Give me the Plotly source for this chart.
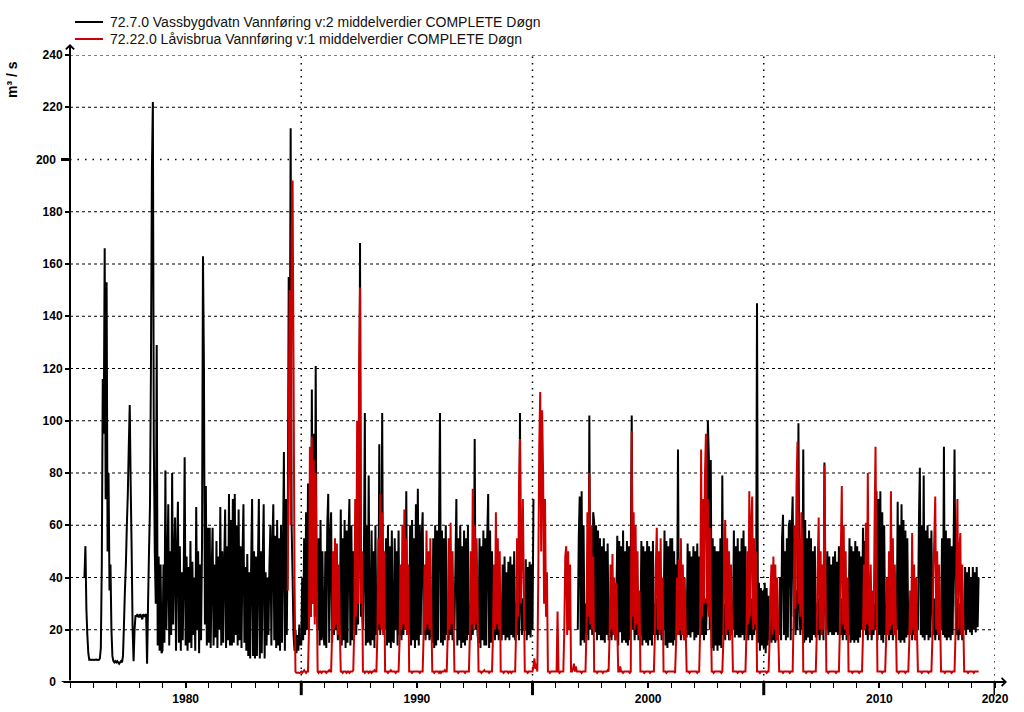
import plotly.graph_objects as go

# ---------------- data (daily mean discharge, m3/s), read at 1/24-year steps -------------
STEP = 1.0 / 24.0

# 72.7.0 Vassbygdvatn, first segment starts 1975 + 15/24
vass_start_1 = 1975 + 15 / 24
vass_1975_1984 = [
    40, 52, 28, 18, 11, 8.5, 8.6, 8.4, 8.5,
    8.5, 8.4, 8.5, 8.6, 8.5, 8.4, 8.5, 9, 13, 45, 116, 95, 166, 70, 153, 50, 80, 35, 45, 20, 10, 8, 7.5, 8,
    7.5, 8, 7.5, 7, 7.5, 8, 7.5, 10, 22, 35, 45, 60, 72, 90, 106, 75, 50, 20, 8, 20, 25.5, 25, 26, 25,
    25, 26, 25, 24, 26, 25, 25.5, 26, 7, 30, 50, 67, 120, 196, 222, 90, 50, 30, 129, 14, 48, 12, 45, 11,
    12, 45, 15, 81, 20, 40, 68, 14, 50, 18, 80, 22, 45, 63, 12, 48, 69, 15, 52, 12, 42, 16, 40, 86,
    14, 48, 12, 44, 15, 54, 13, 46, 18, 40, 12, 67, 20, 50, 11, 45, 16, 52, 163, 121, 22, 75, 14, 59,
    15, 59, 13, 42, 59, 14, 45, 17, 54, 13, 48, 20, 67, 14, 50, 15, 44, 66, 13, 52, 16, 72, 14, 62,
    14, 70, 15, 72, 18, 60, 14, 66, 16, 52, 13, 48, 68, 15, 44, 12, 49, 10, 42, 9, 45, 70, 10, 50,
    9, 48, 10, 44, 70, 9, 50, 11, 46, 68, 9, 42, 14, 40, 18, 45, 60, 14, 52, 68, 16, 56, 13, 62,
    14, 55, 12, 60, 15, 50, 88, 12, 70, 18, 60, 155, 100, 212, 60, 40, 18, 12, 20, 11, 18, 12, 22, 14,
]
vass_start_2 = 1985.0
vass_1985_1995 = [
    14, 40, 16, 55, 18, 65, 20, 76, 20, 60, 25, 112, 30, 95, 25, 121, 30, 20, 55, 14, 62, 16, 50, 18,
    14, 50, 13, 60, 72, 15, 55, 65, 15, 30, 18, 35, 20, 32, 16, 30, 18, 66, 14, 55, 16, 62, 13, 58,
    15, 55, 70, 14, 60, 16, 50, 20, 30, 18, 35, 22, 60, 168, 25, 30, 20, 45, 103, 14, 60, 15, 79, 16,
    14, 58, 16, 50, 13, 60, 18, 25, 20, 91, 18, 30, 103, 20, 30, 20, 55, 14, 60, 15, 52, 13, 58, 16,
    15, 55, 20, 50, 14, 58, 18, 30, 16, 35, 18, 32, 20, 73, 18, 30, 18, 60, 14, 62, 16, 55, 13, 68,
    16, 74, 14, 60, 18, 55, 65, 18, 30, 16, 35, 18, 32, 16, 30, 18, 15, 55, 13, 60, 14, 58, 16, 62,
    103, 15, 58, 14, 55, 16, 60, 18, 30, 16, 35, 18, 32, 16, 30, 20, 45, 70, 14, 55, 16, 60, 13, 52,
    15, 58, 14, 55, 16, 60, 18, 30, 16, 35, 18, 30, 93, 20, 32, 18, 15, 55, 13, 52, 16, 58, 14, 55,
    14, 55, 72, 13, 58, 15, 50, 18, 30, 16, 35, 18, 32, 16, 30, 18, 16, 45, 18, 48, 16, 42, 17, 46,
    16, 48, 18, 45, 17, 50, 16, 30, 18, 35, 16, 103, 30, 18, 32, 20, 20, 47, 16, 44, 18, 46, 17, 45,
    20, 70,
]
vass_start_3 = 1996 + 23 / 24
vass_1997_2014 = [
    20,
    55, 71, 14, 73, 16, 60, 15, 30, 18, 35, 16, 102, 20, 32, 18, 65, 61, 19, 60, 16, 58, 18, 55, 16,
    52, 16, 55, 15, 50, 18, 53, 16, 18, 32, 16, 30, 18, 32, 16, 30, 56, 14, 54, 19, 52, 15, 58, 16,
    50, 15, 54, 14, 52, 16, 48, 102, 20, 32, 16, 30, 18, 32, 16, 30, 18, 54, 14, 52, 16, 50, 15, 54,
    14, 52, 16, 50, 14, 54, 18, 30, 18, 32, 16, 30, 18, 32, 16, 30, 20, 58, 14, 54, 13, 52, 15, 55,
    15, 55, 14, 50, 16, 45, 20, 89, 18, 32, 16, 30, 18, 32, 16, 30, 17, 53, 18, 50, 17, 48, 19, 52,
    16, 50, 17, 53, 18, 48, 20, 30, 18, 35, 16, 32, 18, 30, 100, 86, 20, 85, 13, 55, 12, 52, 14, 50,
    12, 50, 14, 55, 13, 79, 18, 30, 16, 35, 18, 32, 16, 30, 18, 30, 20, 58, 17, 52, 18, 55, 17, 50,
    17, 55, 18, 58, 16, 52, 18, 30, 16, 35, 18, 32, 16, 30, 18, 32, 20, 145, 15, 38, 12, 36, 14, 35,
    13, 38, 11, 36, 14, 33, 16, 25, 15, 28, 16, 25, 15, 28, 16, 25, 18, 40, 16, 55, 64, 18, 50, 16,
    55, 17, 60, 62, 16, 58, 71, 25, 30, 18, 35, 20, 99, 30, 18, 32, 20, 89, 15, 62, 16, 55, 17, 58,
    15, 55, 16, 50, 18, 52, 17, 30, 18, 32, 16, 30, 18, 32, 16, 84, 30, 20, 50, 18, 48, 19, 45, 18,
    48, 18, 50, 19, 46, 18, 52, 30, 18, 32, 16, 30, 18, 32, 16, 30, 18, 55, 15, 52, 16, 50, 15, 54,
    16, 52, 15, 50, 17, 48, 20, 59, 20, 54, 18, 32, 16, 30, 18, 32, 16, 30, 18, 30, 20, 73, 16, 70,
    18, 73, 16, 65, 15, 60, 18, 30, 18, 32, 16, 30, 18, 32, 16, 30, 18, 32, 20, 69, 16, 60, 15, 68,
    16, 62, 15, 58, 17, 55, 18, 30, 18, 32, 16, 30, 18, 32, 16, 30, 20, 60, 82, 18, 60, 17, 79, 16,
    58, 18, 60, 16, 55, 17, 58, 30, 18, 32, 16, 30, 18, 32, 16, 30, 20, 55, 18, 90, 17, 58, 16, 55,
    17, 55, 16, 52, 18, 50, 89, 30, 18, 32, 16, 30, 18, 32, 16, 30, 20, 44, 18, 42, 20, 44, 19, 40,
    18, 44, 20, 42, 19, 44, 21, 40,
]

# 72.22.0 Låvisbrua, starts 1984 + 10/24
laav_start_1 = 1984 + 10 / 24
laav_1984_1994 = [
    35, 100, 150, 60, 170, 192, 120, 40, 4, 3.5, 3.5, 3.6, 3.5, 3.6,
    4, 3.5, 4, 4.5, 4, 3.5, 4, 4, 20, 90, 25, 94, 30, 85, 22, 80, 40, 4, 3.5, 4, 4, 3.5, 4, 4,
    4, 4, 3.5, 4, 4, 4.5, 4, 4, 18, 50, 20, 55, 22, 53, 18, 45, 20, 4, 4, 3.5, 4, 4, 4, 3.5,
    4, 4, 3.5, 4, 4, 4, 4.5, 20, 70, 25, 100, 30, 120, 151, 30, 50, 4, 4, 3.5, 4, 4, 4, 3.5, 4,
    4, 3.5, 4, 4, 4.5, 4, 4, 18, 55, 22, 72, 20, 65, 18, 50, 4, 4, 4, 3.5, 4, 4, 4.5, 4, 4,
    4, 4, 3.5, 4, 4, 4, 15, 45, 20, 60, 22, 66, 20, 55, 18, 45, 4, 4, 4, 3.5, 4, 4, 4, 4,
    4, 4, 4, 3.5, 4, 4, 4, 18, 45, 20, 58, 22, 50, 20, 55, 25, 4, 4, 3.5, 4, 4, 4, 4, 3.5,
    4, 3.5, 4, 4, 4, 4.5, 4, 4, 18, 55, 20, 61, 22, 50, 25, 4, 4, 4, 4, 3.5, 4, 4, 4, 4,
    4, 4, 3.5, 4, 4, 4, 4, 18, 50, 22, 74, 20, 60, 22, 55, 30, 4, 4, 4, 3.5, 4, 4, 4.5, 4,
    4, 4, 4, 3.5, 4, 4, 4, 18, 45, 20, 65, 22, 55, 20, 50, 4, 4, 4, 3.5, 4, 4, 4, 4, 3.5,
    4, 4, 3.5, 4, 4, 4, 4, 20, 55, 25, 75, 93, 30, 50, 70, 35, 4, 4, 4, 3.5, 4, 4, 4, 4,
]
laav_start_2 = 1995.0
laav_1995_2014 = [
    4, 6, 9, 5, 7, 4, 40, 90, 111, 50, 104, 80, 30, 70, 25, 42, 4, 4, 3.5, 4, 4, 4, 4, 4,
    4, 4, 27, 4, 3.5, 4, 4, 4, 4, 20, 48, 52, 18, 50, 20, 45, 4, 4, 5, 7, 4, 6, 4, 4,
    4, 4, 4, 3.5, 4, 4, 4, 4, 20, 65, 25, 80, 22, 60, 20, 48, 4, 4, 4, 3.5, 4, 4, 4, 4,
    4, 3.5, 4, 4, 4, 4, 4.5, 4, 18, 45, 20, 49, 18, 40, 16, 38, 20, 4, 4, 6, 4, 4, 3.5, 4,
    4, 4, 4, 4, 4, 3.5, 4, 96, 25, 65, 20, 60, 22, 50, 18, 35, 4, 4, 4, 4, 3.5, 4, 4, 4,
    4, 4, 3.5, 4, 4, 4, 4, 18, 45, 59, 20, 50, 18, 55, 20, 40, 4, 4, 4, 3.5, 4, 4, 4, 4,
    4, 4, 4, 4, 3.5, 15, 40, 18, 47, 20, 55, 18, 45, 16, 40, 20, 4, 4, 4, 3.5, 4, 4, 4, 4,
    4, 4, 4, 3.5, 4, 4, 20, 89, 25, 70, 30, 80, 95, 30, 70, 25, 59, 30, 4, 4, 3.5, 4, 4, 4,
    4, 4, 4, 4, 3.5, 4, 15, 45, 62, 18, 55, 20, 50, 16, 45, 25, 4, 4, 4, 4, 4, 3.5, 4, 4,
    4, 4, 3.5, 4, 4, 4, 18, 50, 22, 73, 25, 60, 71, 20, 55, 22, 50, 4, 4, 4, 3.5, 4, 4, 4,
    4, 4, 4, 3.5, 4, 4, 15, 35, 45, 18, 48, 20, 45, 16, 40, 20, 4, 4, 4, 4, 3.5, 4, 4, 4,
    4, 4, 4, 3.5, 4, 4, 4, 25, 60, 28, 75, 92, 30, 55, 25, 65, 50, 4, 4, 4, 3.5, 4, 4, 4,
    4, 4, 3.5, 4, 4, 4, 4, 18, 45, 63, 20, 50, 18, 45, 20, 83, 40, 4, 4, 3.5, 4, 4, 4, 4,
    4, 4, 4, 3.5, 4, 4, 4, 20, 50, 75, 22, 60, 20, 50, 18, 40, 4, 4, 4, 4, 3.5, 4, 4, 4,
    4, 4, 4, 3.5, 4, 4, 4, 18, 45, 20, 61, 22, 80, 25, 18, 45, 20, 35, 20, 60, 90, 40, 4, 4,
    4, 4, 4, 3.5, 4, 4, 4, 16, 40, 18, 50, 20, 73, 22, 55, 18, 45, 25, 4, 4, 3.5, 4, 4, 4,
    4, 4, 4, 3.5, 4, 4, 4, 15, 35, 18, 57, 20, 45, 16, 40, 20, 4, 4, 4, 4, 3.5, 4, 4, 4,
    4, 4, 4, 3.5, 4, 4, 4, 16, 40, 55, 71, 20, 50, 18, 45, 25, 4, 4, 4, 4, 3.5, 4, 4, 4,
    4, 4, 4, 3.5, 4, 4, 4, 18, 45, 70, 20, 50, 57, 18, 45, 25, 4, 4, 4, 4, 3.5, 4, 4, 4,
    4, 4, 3.5, 4, 4, 4, 4, 4,
]

x_tick_vals = [1980, 1990, 2000, 2010, 2015]
x_tick_text = ["1980", "1990", "2000", "2010", "2020"]
y_tick_vals = list(range(0, 241, 20))
y_tick_text = [str(v) + ("\u2007" if v in (0, 200) else "") for v in y_tick_vals]
major_x = [1985, 1995, 2005, 2015]

name_black = "72.7.0 Vassbygdvatn Vannføring v:2 middelverdier COMPLETE Døgn"
name_red = "72.22.0 Låvisbrua Vannføring v:1 middelverdier COMPLETE Døgn"


def times(start, values):
    return [start + i * STEP for i in range(len(values))]


bx = times(vass_start_1, vass_1975_1984) + [None] + times(vass_start_2, vass_1985_1995) + [None] + times(vass_start_3, vass_1997_2014)
by = vass_1975_1984 + [None] + vass_1985_1995 + [None] + vass_1997_2014
rx = times(laav_start_1, laav_1984_1994) + times(laav_start_2, laav_1995_2014)
ry = laav_1984_1994 + laav_1995_2014

RED = "#cc0000"
FONT = "Liberation Sans, Arial, sans-serif"

fig = go.Figure()
fig.add_trace(go.Scatter(x=bx, y=by, mode="lines", name=name_black, connectgaps=False,
                         line=dict(color="#000000", width=2.0, simplify=False), hoverinfo="skip"))
fig.add_trace(go.Scatter(x=rx, y=ry, mode="lines", name=name_red,
                         line=dict(color=RED, width=2.0, simplify=False), hoverinfo="skip"))

shapes = []
for v in y_tick_vals[1:]:
    if v == 200:
        shapes.append(dict(type="line", xref="x", yref="y", x0=1975, x1=2015, y0=v, y1=v,
                           line=dict(color="black", width=1.5, dash="1.5px,6px"), layer="below"))
    else:
        shapes.append(dict(type="line", xref="x", yref="y", x0=1975, x1=2015, y0=v, y1=v,
                           line=dict(color="black", width=1, dash="3px,3px"), layer="below"))
for xv in major_x:
    shapes.append(dict(type="line", xref="x", yref="y", x0=xv, x1=xv, y0=0, y1=240,
                       line=dict(color="black", width=1.5, dash="1.5px,5px"), layer="below"))
    shapes.append(dict(type="line", xref="x", yref="paper", x0=xv, x1=xv, y0=0, y1=-0.021,
                       line=dict(color="black", width=3)))
# long tick at 200 and extension of the x-axis line at 0
shapes.append(dict(type="line", xref="paper", yref="y", x0=0, x1=-0.0097, y0=200, y1=200,
                   line=dict(color="black", width=3)))
shapes.append(dict(type="line", xref="paper", yref="y", x0=0, x1=-0.0090, y0=0, y1=0,
                   line=dict(color="black", width=2)))
# legend samples
shapes.append(dict(type="line", xref="paper", yref="paper", x0=0.0054, x1=0.0357, y0=1.0526, y1=1.0526,
                   line=dict(color="black", width=2)))
shapes.append(dict(type="line", xref="paper", yref="paper", x0=0.0054, x1=0.0357, y0=1.0255, y1=1.0255,
                   line=dict(color=RED, width=2)))

annotations = [
    # y axis with arrow
    dict(xref="paper", yref="paper", x=0, y=(682 - 44) / 627, ax=0, ay=638, axref="pixel", ayref="pixel",
         showarrow=True, arrowhead=4, arrowsize=0.8, arrowwidth=2, arrowcolor="black", text=""),
    # x axis with arrow
    dict(xref="paper", yref="paper", x=(1007 - 70) / 925, y=0, ax=-945, ay=0, axref="pixel", ayref="pixel",
         showarrow=True, arrowhead=4, arrowsize=0.8, arrowwidth=2, arrowcolor="black", text=""),
    dict(xref="paper", yref="paper", x=0.0411, y=1.0526, xanchor="left", yanchor="middle", showarrow=False,
         text=name_black, font=dict(family=FONT, size=14, color="#111111")),
    dict(xref="paper", yref="paper", x=0.0411, y=1.0255, xanchor="left", yanchor="middle", showarrow=False,
         text=name_red, font=dict(family=FONT, size=14, color="#111111")),
    dict(xref="paper", yref="paper", x=(12 - 70) / 925, y=(682 - 80) / 627, xanchor="center", yanchor="middle",
         showarrow=False, textangle=-90, text="m³ / s",
         font=dict(family=FONT, size=14, color="black", weight="bold")),
]

fig.update_layout(
    width=1024, height=712,
    margin=dict(l=70, r=29, t=55, b=30, autoexpand=False),
    plot_bgcolor="white", paper_bgcolor="white",
    showlegend=False,
    shapes=shapes, annotations=annotations,
    xaxis=dict(range=[1975, 2015], showgrid=False, zeroline=False, showline=False, automargin=False,
               tickmode="array", tickvals=x_tick_vals, ticktext=x_tick_text,
               ticks="outside", ticklen=5, tickwidth=1.5, tickcolor="black", ticklabelstandoff=1,
               tickfont=dict(family=FONT, size=12, color="black", weight="bold"),
               minor=dict(tickmode="linear", tick0=1975, dtick=1, ticks="outside", ticklen=5,
                          tickwidth=1.2, tickcolor="black", showgrid=False)),
    yaxis=dict(range=[0, 240], showgrid=False, zeroline=False, showline=False, automargin=False,
               tickmode="array", tickvals=y_tick_vals, ticktext=y_tick_text,
               ticks="outside", ticklen=4, tickwidth=2, tickcolor="black",
               tickfont=dict(family=FONT, size=12, color="black", weight="bold")),
)

fig.write_html("out.html")
